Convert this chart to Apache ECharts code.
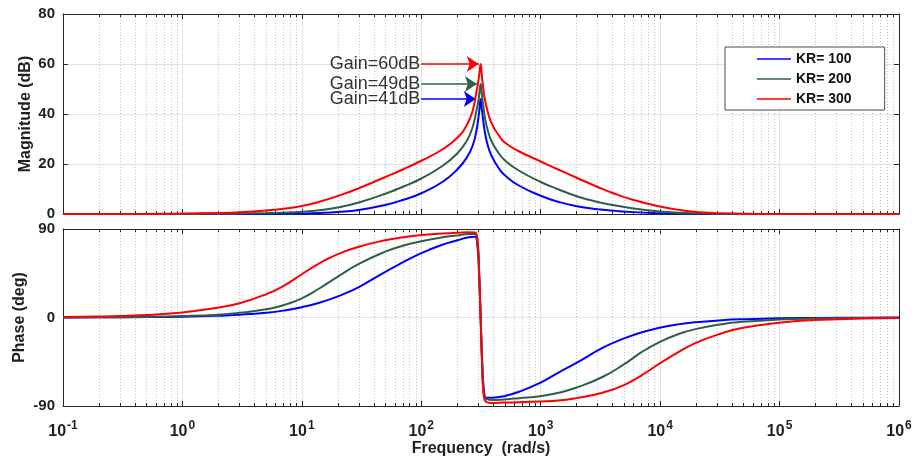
<!DOCTYPE html>
<html>
<head>
<meta charset="utf-8">
<title>Bode diagram of the resonant controller</title>
<script src="https://cdn.jsdelivr.net/npm/echarts@6/dist/echarts.min.js"></script>
<style>
  html, body { margin: 0; padding: 0; background: #ffffff; }
  #chart { width: 915px; height: 466px; }
</style>
</head>
<body>
<div id="chart"></div>
<script>
// Frequency points (rad/s) for the magnitude curves
const magFreq = [0.1, 0.5, 1, 2, 3, 5, 7, 10, 14, 20, 30, 50, 70, 100, 150, 200, 240, 270, 290, 300, 307, 314,
  322, 330, 340, 360, 390, 450, 500, 650, 1000, 1400, 2000, 3000, 4000, 6000, 10000, 15000, 20000, 30000, 50000, 100000, 1000000];

// Magnitude (dB) for each resonant gain
const magKR100 = [0, 0, 0, 0, 0.02, 0.05, 0.1, 0.2, 0.4, 0.8, 1.6, 3.6, 5.6, 8.3, 12.8, 17.8, 22.5, 27.5, 33.5, 38, 42, 46,
  41.5, 37.5, 33, 27.5, 23, 18, 15.5, 11.5, 7.3, 4.9, 3.1, 1.9, 1.35, 0.75, 0.35, 0.15, 0.1, 0.05, 0, 0, 0];
const magKR200 = [0, 0, 0.03, 0.1, 0.2, 0.35, 0.55, 0.9, 1.5, 2.6, 4.6, 8.1, 10.9, 14.2, 19.2, 24.2, 29.2, 35, 41.5, 45, 48.5, 52,
  47.5, 43.5, 39, 33.5, 28.8, 24, 21.5, 17.5, 12.8, 9.9, 7.1, 4.8, 3.6, 2.2, 1.0, 0.5, 0.3, 0.12, 0.04, 0, 0];
const magKR300 = [0, 0.05, 0.15, 0.4, 0.7, 1.4, 2.1, 3.2, 4.9, 7.2, 10.3, 14.8, 17.8, 21.3, 25.8, 30.5, 35.5, 41.5, 49, 53, 56.5, 60,
  55, 50.5, 46, 41, 36, 31.2, 28.6, 25.2, 21, 17.8, 14.5, 10.8, 8.4, 5.6, 3.0, 1.5, 0.8, 0.35, 0.1, 0, 0];

// Frequency points (rad/s) for the phase curves
const phaseFreq = [0.1, 0.2, 0.5, 1, 2, 3, 5, 7, 10, 14, 20, 30, 50, 70, 100, 150, 200, 250, 280, 295, 305, 314,
  323, 334, 352, 394, 493, 657, 986, 1409, 1972, 3287, 4930, 7043, 9860, 14086, 19720, 32870, 49300, 98600, 197200, 493000, 1000000];

// Phase (deg) for each resonant gain
const phaseKR100 = [0.05, 0.15, 0.4, 0.8, 1.8, 2.8, 4.8, 7, 10.5, 15, 21.5, 31, 46.5, 56, 65.5, 74, 78.5, 81.5, 82, 73, 42, 0,
  -42, -73, -81.5, -81.5, -80, -75.5, -66.5, -56, -46.5, -31, -21.5, -15, -10.5, -7, -4.8, -2.8, -1.8, -0.8, -0.4, -0.15, -0.05];
const phaseKR200 = [0.1, 0.25, 0.6, 1.4, 2.9, 4.8, 8.3, 12.5, 19.5, 29.5, 41.5, 54.5, 67, 73, 77.5, 81.5, 83.5, 84.8, 84.8, 77, 45, 0,
  -46, -78, -83, -84, -83.3, -82, -80, -76.5, -71.5, -60.5, -48, -35, -25, -17, -11.8, -6.8, -4.4, -2.1, -1, -0.4, -0.2];
const phaseKR300 = [0.5, 1.0, 2.6, 5.2, 10, 14.5, 23.5, 32, 44, 55, 64.5, 72, 78.5, 81.5, 83.8, 85.3, 86.2, 86.8, 86.5, 80, 48, 0,
  -48, -80, -86, -87, -86.5, -86.2, -85.5, -84.5, -82, -76.5, -69, -58.5, -47, -35.5, -26, -16, -10.5, -5.3, -2.6, -1.1, -0.5];

const seriesNames = ['KR= 100', 'KR= 200', 'KR= 300'];
const seriesColors = ['#0000ff', '#2e6049', '#ff0000'];
const gainLabels = ['Gain=41dB', 'Gain=49dB', 'Gain=60dB'];
// where each annotation arrow starts and where its head lands (rad/s)
const arrowStartFreq = 100;
const arrowTipFreq = [286, 292, 303];

const decadeTicks = [0.1, 1, 10, 100, 1000, 10000, 100000, 1000000];
const magTicks = [0, 20, 40, 60, 80];
const phaseTicks = [-90, 0, 90];

// minor log ticks at 2..9 within every decade
const minorTicks = [];
for (let k = -1; k < 6; k++) {
  for (let m = 2; m <= 9; m++) minorTicks.push(+(m * Math.pow(10, k)).toPrecision(6));
}

const FONT = '"Liberation Sans", Arial, Helvetica, sans-serif';
const AXIS_COLOR = '#262626';
const TEXT_COLOR = '#1f1f1f';

const magData = [magKR100, magKR200, magKR300];
const phaseData = [phaseKR100, phaseKR200, phaseKR300];

function pairs(xs, ys) { return xs.map((x, i) => [x, ys[i]]); }

function xAxesFor(gridIndex, withLabels) {
  const base = { type: 'log', logBase: 10, gridIndex: gridIndex, min: 0.1, max: 1000000 };
  return [
    Object.assign({}, base, {
      position: 'bottom',
      axisLine: { show: true, onZero: false, lineStyle: { color: AXIS_COLOR, width: 1 } },
      axisTick: { show: true, inside: true, length: 5, customValues: decadeTicks, lineStyle: { color: AXIS_COLOR } },
      axisLabel: {
        show: withLabels,
        customValues: decadeTicks,
        margin: 14,
        formatter: function (v) { return '{b|10}{s|' + Math.round(Math.log10(v)) + '}'; },
        rich: {
          b: { fontFamily: FONT, fontWeight: 'bold', fontSize: 16, color: TEXT_COLOR, lineHeight: 20, verticalAlign: 'bottom' },
          s: { fontFamily: FONT, fontWeight: 'bold', fontSize: 12, color: TEXT_COLOR, lineHeight: 12, verticalAlign: 'top', padding: [0, 0, 0, 1] }
        }
      },
      splitLine: { show: true, lineStyle: { color: '#e2e2e2', width: 1 } },
      name: withLabels ? 'Frequency  (rad/s)' : '',
      nameLocation: 'middle',
      nameGap: 35,
      nameMoveOverlap: false,
      nameTextStyle: { fontFamily: FONT, fontWeight: 'bold', fontSize: 16, color: TEXT_COLOR }
    }),
    Object.assign({}, base, {
      position: 'bottom',
      axisLine: { show: false, onZero: false },
      axisTick: { show: true, inside: true, length: 3, customValues: minorTicks, lineStyle: { color: AXIS_COLOR } },
      axisLabel: { show: false },
      splitLine: { show: true, lineStyle: { color: '#c2c2c2', width: 1, type: [1, 2] } }
    }),
    Object.assign({}, base, {
      position: 'top',
      axisLine: { show: true, onZero: false, lineStyle: { color: AXIS_COLOR, width: 1 } },
      axisTick: { show: true, inside: true, length: 5, customValues: decadeTicks, lineStyle: { color: AXIS_COLOR } },
      axisLabel: { show: false },
      splitLine: { show: false }
    }),
    Object.assign({}, base, {
      position: 'top',
      axisLine: { show: false, onZero: false },
      axisTick: { show: true, inside: true, length: 3, customValues: minorTicks, lineStyle: { color: AXIS_COLOR } },
      axisLabel: { show: false },
      splitLine: { show: false }
    })
  ];
}

function yAxesFor(gridIndex, min, max, ticks, name, nameGap) {
  return [
    {
      type: 'value', gridIndex: gridIndex, min: min, max: max, position: 'left',
      axisLine: { show: true, onZero: false, lineStyle: { color: AXIS_COLOR, width: 1 } },
      axisTick: { show: true, inside: true, length: 5, customValues: ticks, lineStyle: { color: AXIS_COLOR } },
      axisLabel: {
        show: true, customValues: ticks, margin: 8,
        fontFamily: FONT, fontWeight: 'bold', fontSize: 15, color: TEXT_COLOR
      },
      splitLine: { show: true, lineStyle: { color: '#e2e2e2', width: 1 } },
      name: name, nameLocation: 'middle', nameGap: nameGap, nameMoveOverlap: false,
      nameTextStyle: { fontFamily: FONT, fontWeight: 'bold', fontSize: 16, color: TEXT_COLOR }
    },
    {
      type: 'value', gridIndex: gridIndex, min: min, max: max, position: 'right',
      axisLine: { show: true, onZero: false, lineStyle: { color: AXIS_COLOR, width: 1 } },
      axisTick: { show: true, inside: true, length: 5, customValues: ticks, lineStyle: { color: AXIS_COLOR } },
      axisLabel: { show: false },
      splitLine: { show: false }
    }
  ];
}

const series = [];
seriesNames.forEach(function (name, i) {
  const peak = Math.max.apply(null, magData[i]);
  series.push({
    name: name, type: 'line', xAxisIndex: 0, yAxisIndex: 0,
    data: pairs(magFreq, magData[i]),
    symbol: 'none', smooth: 0.5,
    lineStyle: { color: seriesColors[i], width: 2 },
    itemStyle: { color: seriesColors[i] },
    z: 3 + i,
    markLine: {
      silent: true,
      animation: false,
      symbol: ['none', 'arrow'],
      symbolSize: 12,
      lineStyle: { color: seriesColors[i], width: 1.6, type: 'solid' },
      label: {
        show: true, position: 'start', distance: 1,
        formatter: gainLabels[i],
        fontFamily: FONT, fontSize: 18, color: '#333333'
      },
      emphasis: { disabled: true },
      data: [[{ coord: [arrowStartFreq, peak] }, { coord: [arrowTipFreq[i], peak] }]]
    }
  });
});
seriesNames.forEach(function (name, i) {
  series.push({
    name: name, type: 'line', xAxisIndex: 4, yAxisIndex: 2,
    data: pairs(phaseFreq, phaseData[i]),
    symbol: 'none', smooth: 0.5,
    lineStyle: { color: seriesColors[i], width: 2 },
    itemStyle: { color: seriesColors[i] },
    z: 3 + i
  });
});

const chart = echarts.init(document.getElementById('chart'), null, { renderer: 'canvas' });
chart.setOption({
  animation: false,
  backgroundColor: '#ffffff',
  grid: [
    { left: 63, right: 16, top: 14, height: 200, containLabel: false },
    { left: 63, right: 16, top: 229, height: 177, containLabel: false }
  ],
  xAxis: xAxesFor(0, false).concat(xAxesFor(1, true)),
  yAxis: yAxesFor(0, 0, 80, magTicks, 'Magnitude (dB)', 29)
    .concat(yAxesFor(1, -90, 90, phaseTicks, 'Phase (deg)', 35.5)),
  legend: {
    left: 725, top: 47,
    orient: 'vertical',
    itemWidth: 34, itemHeight: 14, itemGap: 6,
    padding: [5, 33, 4, 32],
    borderColor: '#4d4d4d', borderWidth: 1, backgroundColor: '#ffffff',
    selectedMode: false,
    icon: 'path://M0,0 L34,0 L34,1.6 L0,1.6 Z',
    textStyle: { fontFamily: FONT, fontWeight: 'bold', fontSize: 14, color: '#111111' },
    data: seriesNames
  },
  series: series
});
</script>
</body>
</html>
